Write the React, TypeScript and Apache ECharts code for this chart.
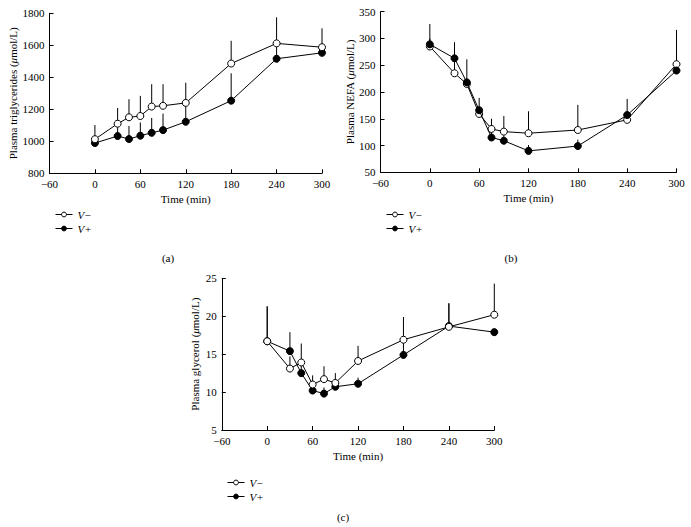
import React, { useEffect, useRef } from "react";
import * as echarts from "echarts";

const times = [0, 30, 45, 60, 75, 90, 120, 180, 240, 300];
const xTicks = [-60, 0, 60, 120, 180, 240, 300];

const tgVminus = [1013, 1110, 1150, 1158, 1217, 1222, 1240, 1486, 1612, 1588];
const tgVminusErr = [1102, 1208, 1263, 1284, 1357, 1357, 1366, 1628, 1775, 1706];
const tgVplus = [989, 1033, 1014, 1035, 1053, 1070, 1122, 1254, 1516, 1553];
const tgVplusErr = [1005, 1100, 1096, 1118, 1146, 1173, 1235, 1425, 1600, 1553];

const nefaVminus = [285, 235, 215, 159, 131, 126, 123, 129, 148, 252];
const nefaVminusErr = [300, 262, 217, 165, 150, 155, 164, 176, 150, 316];
const nefaVplus = [289, 263, 218, 166, 115, 109, 90, 99, 157, 240];
const nefaVplusErr = [327, 293, 261, 189, 128, 124, 101, 111, 187, 250];

const glyVminus = [16.7, 13.1, 13.9, 11.0, 11.7, 11.2, 14.1, 16.9, 18.6, 20.2];
const glyVminusErr = [21.3, 14.7, 16.4, 12.2, 13.4, 12.5, 16.1, 19.9, 21.7, 24.3];
const glyVplus = [16.7, 15.4, 12.5, 10.2, 9.8, 10.7, 11.1, 14.9, 18.7, 17.9];
const glyVplusErr = [21.3, 17.9, 13.7, 10.2, 10.6, 11.7, 11.9, 16.8, 21.7, 17.9];

const seriesNames = ["V\u2212", "V+"];
const captions = ["(a)", "(b)", "(c)"];
const yNames = ["Plasma triglycerides (", "Plasma NEFA (", "Plasma glycerol ("];
const yRanges = [
  { min: 800, max: 1800, interval: 200 },
  { min: 50, max: 350, interval: 50 },
  { min: 5, max: 25, interval: 5 },
];

const FONT = "Liberation Serif";

export default function App() {
  const ref = useRef<HTMLDivElement>(null);
  useEffect(() => {
    if (!ref.current) return;
    const chart = echarts.init(ref.current, undefined, { renderer: "svg" });

    const grids = [
      { left: 49.5, top: 13.3, width: 272.5, height: 160 },
      { left: 380.5, top: 11.7, width: 296, height: 160.6 },
      { left: 221.8, top: 278.3, width: 272.5, height: 151.7 },
    ];
    const yNameGaps = [30, 24, 21];
    const legendPos = [
      { left: 50, top: 204 },
      { left: 381, top: 204 },
      { left: 222, top: 472 },
    ];
    const captionPos = [
      [168, 258],
      [511, 258],
      [343, 517],
    ];

    const panels = [
      { vm: tgVminus, vmE: tgVminusErr, vp: tgVplus, vpE: tgVplusErr },
      { vm: nefaVminus, vmE: nefaVminusErr, vp: nefaVplus, vpE: nefaVplusErr },
      { vm: glyVminus, vmE: glyVminusErr, vp: glyVplus, vpE: glyVplusErr },
    ];

    const axisCommon = {
      axisLine: { show: true, onZero: false, lineStyle: { color: "#000", width: 1 } },
      axisTick: { show: true, inside: true, length: 4, lineStyle: { color: "#000" } },
      splitLine: { show: false },
      axisLabel: {
        color: "#000",
        fontFamily: FONT,
        fontSize: 11,
        margin: 5,
        formatter: (v: number) => (v < 0 ? "\u2212" + Math.abs(v) : String(v)),
      },
    };

    const xAxis = grids.map((_, i) => ({
      type: "value",
      gridIndex: i,
      min: xTicks[0],
      max: xTicks[xTicks.length - 1],
      interval: 60,
      name: "Time (min)",
      nameLocation: "middle",
      nameGap: 20,
      nameTextStyle: { color: "#000", fontFamily: FONT, fontSize: 11, fontWeight: "normal" },
      ...axisCommon,
    }));

    const yAxis = grids.map((_, i) => ({
      type: "value",
      gridIndex: i,
      ...yRanges[i],
      name: `{n|${yNames[i]}}{i|\u03bc}{n|mol/L)}`,
      nameLocation: "middle",
      nameGap: yNameGaps[i],
      nameRotate: 90,
      nameTextStyle: {
        color: "#000",
        fontFamily: FONT,
        fontSize: 11,
        fontWeight: "normal",
        rich: {
          n: { fontFamily: FONT, fontSize: 11, color: "#000", fontWeight: "normal" },
          i: { fontFamily: FONT, fontSize: 11, color: "#000", fontStyle: "italic", fontWeight: "normal" },
        },
      },
      ...axisCommon,
    }));

    const series: any[] = [];
    const errRender = (params: any, api: any) => {
      const x = api.value(0);
      const p1 = api.coord([x, api.value(1)]);
      const p2 = api.coord([x, api.value(2)]);
      return {
        type: "line",
        shape: { x1: p1[0], y1: p1[1], x2: p2[0], y2: p2[1] },
        style: { stroke: "#000", lineWidth: 1 },
      };
    };
    panels.forEach((p, i) => {
      series.push({
        type: "custom",
        name: `err-m-${i}`,
        xAxisIndex: i,
        yAxisIndex: i,
        clip: false,
        z: 1,
        renderItem: errRender,
        encode: { x: 0, y: [1, 2] },
        data: times.map((t, k) => [t, p.vm[k], p.vmE[k]]),
      });
      series.push({
        type: "custom",
        name: `err-p-${i}`,
        xAxisIndex: i,
        yAxisIndex: i,
        clip: false,
        z: 1,
        renderItem: errRender,
        encode: { x: 0, y: [1, 2] },
        data: times.map((t, k) => [t, p.vp[k], p.vpE[k]]),
      });
      series.push({
        type: "line",
        name: seriesNames[1],
        xAxisIndex: i,
        yAxisIndex: i,
        clip: false,
        z: 3,
        symbol: "circle",
        symbolSize: 7,
        showAllSymbol: true,
        lineStyle: { color: "#000", width: 1 },
        itemStyle: { color: "#000", borderColor: "#000", borderWidth: 1 },
        data: times.map((t, k) => [t, p.vp[k]]),
      });
      series.push({
        type: "line",
        name: seriesNames[0],
        xAxisIndex: i,
        yAxisIndex: i,
        clip: false,
        z: i === 1 ? 2 : 4,
        symbol: "circle",
        symbolSize: 7,
        showAllSymbol: true,
        lineStyle: { color: "#000", width: 1 },
        itemStyle: { color: "#fff", borderColor: "#000", borderWidth: 1 },
        data: times.map((t, k) => [t, p.vm[k]]),
      });
    });

    const legend = legendPos.map((pos) => ({
      data: seriesNames,
      orient: "vertical",
      left: pos.left,
      top: pos.top,
      itemWidth: 17,
      itemHeight: 6,
      itemGap: 3,
      selectedMode: false,
      itemStyle: { borderWidth: 1 },
      lineStyle: { width: 1 },
      textStyle: { color: "#000", fontFamily: FONT, fontSize: 11, fontStyle: "italic" },
    }));

    chart.setOption({
      animation: false,
      backgroundColor: "#fff",
      textStyle: { fontFamily: FONT },
      grid: grids,
      xAxis,
      yAxis,
      legend,
      series,
      graphic: captionPos.map((c, i) => ({
        type: "text",
        x: c[0],
        y: c[1],
        style: {
          text: captions[i],
          fill: "#000",
          fontFamily: FONT,
          fontSize: 11,
          align: "center",
          verticalAlign: "middle",
        },
      })),
    });
    return () => chart.dispose();
  }, []);

  return <div ref={ref} style={{ width: 691, height: 527, position: "absolute", left: 0, top: 0 }} />;
}
